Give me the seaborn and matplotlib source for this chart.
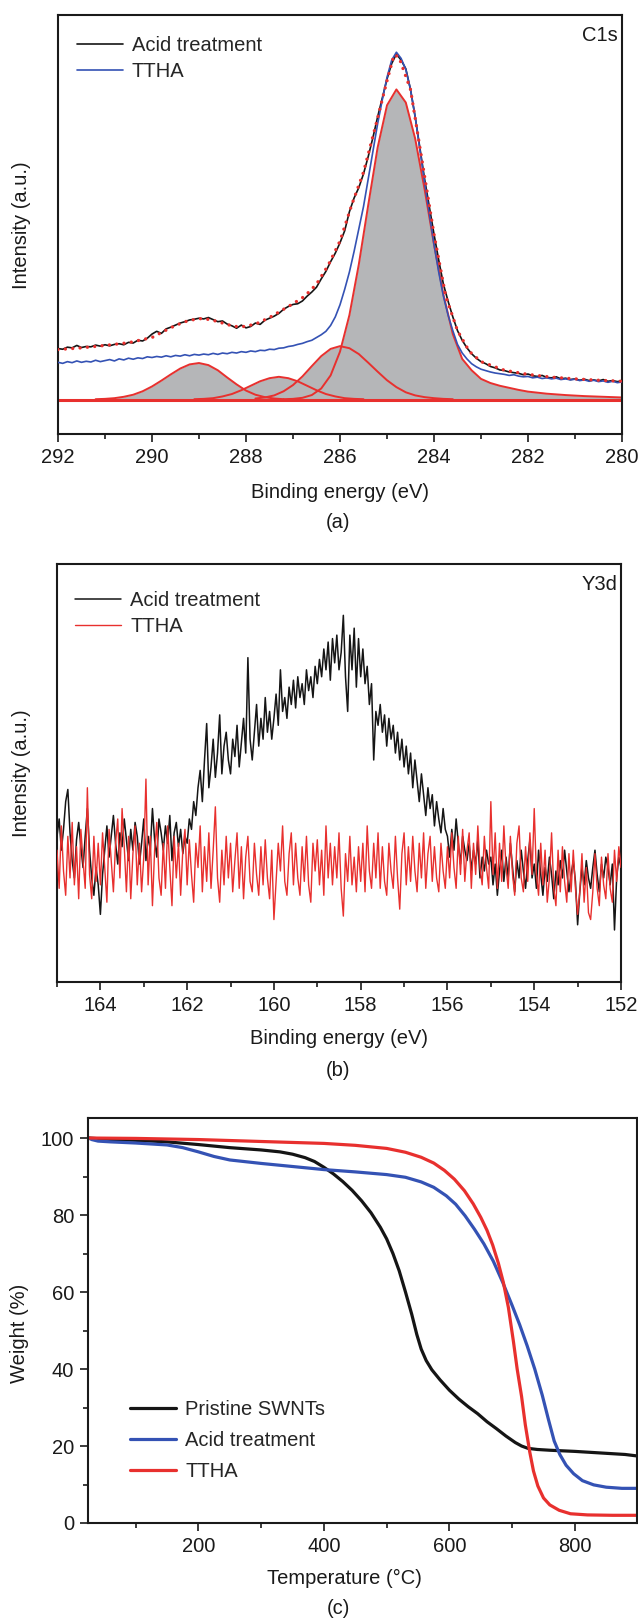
import numpy as np
import pandas as pd
import matplotlib
matplotlib.use("Agg")
import matplotlib.pyplot as plt
from matplotlib.ticker import MultipleLocator
import seaborn as sns

# ---------------- Panel (a) C1s data ----------------
c1s_energy = np.round(np.arange(292.0, 279.95, -0.1), 2)
c1s_acid = [148, 146, 152, 150, 157, 151, 154, 153, 158, 155,
            159, 156, 160, 162, 159, 166, 164, 172, 170, 178,
            190, 198, 192, 205, 210, 216, 222, 226, 231, 233,
            236, 234, 238, 232, 226, 228, 219, 214, 207, 216,
            208, 212, 222, 218, 230, 236, 242, 250, 262, 270,
            276, 278, 286, 300, 312, 326, 350, 372, 400, 425,
            455, 490, 545, 585, 615, 655, 705, 760, 820, 875,
            930, 975, 1003, 985, 960, 900, 820, 730, 640, 560,
            480, 405, 335, 285, 240, 200, 172, 150, 133, 120,
            110, 104, 96, 92, 86, 84, 80, 78, 76, 72,
            74, 69, 67, 70, 64, 63, 66, 60, 62, 58,
            60, 56, 59, 55, 57, 54, 58, 53, 55, 52, 54]
c1s_ttha = [108, 105, 110, 107, 112, 108, 111, 109, 114, 110,
            113, 116, 112, 118, 115, 120, 117, 121, 119, 124,
            122, 125, 123, 127, 124, 128, 126, 130, 127, 131,
            129, 132, 130, 134, 131, 135, 133, 137, 135, 139,
            137, 141, 139, 143, 142, 146, 145, 149, 150, 154,
            156, 160, 163, 168, 172, 180, 188, 198, 215, 240,
            275, 320, 370, 430, 495, 560, 640, 720, 800, 870,
            935, 985, 1008, 990, 958, 900, 820, 725, 630, 540,
            450, 370, 300, 245, 200, 160, 135, 118, 104, 95,
            88, 84, 80, 77, 75, 73, 70, 72, 68, 66,
            67, 63, 65, 61, 63, 60, 62, 58, 60, 57,
            59, 55, 57, 53, 56, 52, 54, 50, 53, 49, 51]

env_energy = [292, 291.5, 291, 290.5, 290, 289.75, 289.5, 289.25, 289, 288.75,
              288.5, 288.25, 288, 287.75, 287.5, 287.25, 287, 286.75, 286.5, 286.25,
              286, 285.75, 285.5, 285.25, 285, 284.85, 284.75, 284.5, 284.25, 284,
              283.75, 283.5, 283.25, 283, 282.5, 282, 281.5, 281, 280.5, 280]
env_fit = [145, 150, 157, 165, 180, 198, 215, 228, 235, 232,
           222, 212, 212, 222, 238, 258, 278, 300, 335, 390,
           460, 565, 660, 790, 925, 1000, 995, 900, 690, 480,
           300, 200, 140, 110, 85, 73, 65, 60, 56, 53]

comp1_energy = [291.2, 291.0, 290.8, 290.6, 290.4, 290.2, 290.0, 289.8, 289.6, 289.4, 289.2,
                289.0, 288.8, 288.6, 288.4, 288.2, 288.0, 287.8, 287.6, 287.4, 287.2]
comp1_int = [1, 2, 4, 8, 14, 24, 38, 55, 73, 90, 102,
             106, 100, 85, 64, 44, 26, 14, 7, 3, 1]
comp2_energy = [289.1, 288.9, 288.7, 288.5, 288.3, 288.1, 287.9, 287.7, 287.5, 287.3,
                287.1, 286.9, 286.7, 286.5, 286.3, 286.1, 285.9, 285.7, 285.5]
comp2_int = [1, 2, 4, 9, 16, 27, 40, 53, 62, 66,
             62, 53, 40, 27, 16, 9, 4, 2, 1]
comp3_energy = [287.8, 287.6, 287.4, 287.2, 287.0, 286.8, 286.6, 286.4, 286.2, 286.0,
                285.8, 285.6, 285.4, 285.2, 285.0, 284.8, 284.6, 284.4, 284.2, 284.0, 283.8, 283.6]
comp3_int = [3, 6, 12, 24, 42, 67, 97, 126, 147, 155,
             149, 132, 107, 81, 56, 36, 21, 12, 7, 4, 2, 1]
comp4_energy = [287.2, 287.0, 286.8, 286.6, 286.4, 286.2, 286.0, 285.8, 285.6, 285.4, 285.2,
                285.0, 284.8, 284.6, 284.4, 284.2, 284.0, 283.8, 283.6, 283.4, 283.2,
                283.0, 282.8, 282.6, 282.4, 282.2, 282.0, 281.6, 281.2, 280.8, 280.4, 280.0]
comp4_int = [1, 2, 5, 13, 32, 70, 139, 245, 392, 564, 731,
             854, 900, 862, 757, 610, 450, 305, 190, 118, 85,
             60, 48, 40, 34, 28, 23, 17, 13, 10, 8, 6]
base_energy = [292, 280]
base_int = [0, 0]

# ---------------- Panel (b) Y3d data ----------------
y3d_energy = np.round(np.arange(165.0, 151.99, -0.05), 2)
y3d_acid = [420, 470, 380, 440, 520, 555, 430, 350, 300, 410, 460, 390, 330, 420, 500, 380, 300, 250, 330, 280,
            195, 310, 380, 450, 360, 420, 480, 400, 340, 430, 390, 470, 410, 350, 440, 380, 460, 420, 340, 400,
            470, 350, 420, 380, 500, 410, 360, 470, 430, 380, 450, 400, 480, 350, 430, 460, 390, 440, 370, 420,
            400, 470, 440, 520, 480, 560, 610, 520, 640, 745, 560, 620, 700, 590, 660, 770, 600, 680, 720, 640,
            600, 700, 650, 740, 620, 690, 760, 660, 935, 700, 640, 720, 800, 680, 760, 700, 820, 720, 780, 700,
            760, 830, 740, 900, 780, 820, 760, 850, 800, 870, 790, 880, 820, 860, 800, 900, 840, 880, 820, 910,
            860, 930, 880, 960, 900, 980, 870, 990, 920, 1000, 900, 950, 1057, 880, 780, 1000, 900, 1020, 850, 990,
            880, 960, 860, 910, 800, 860, 640, 780, 740, 800, 720, 770, 680, 760, 700, 740, 660, 720, 640, 700,
            620, 680, 600, 660, 560, 640, 580, 520, 600, 540, 480, 560, 500, 540, 450, 520, 470, 430, 500, 440,
            420, 360, 440, 380, 470, 400, 340, 420, 380, 350, 400, 320, 380, 340, 410, 300, 360, 320, 380, 340,
            360, 280, 340, 250, 320, 380, 290, 360, 300, 400, 330, 260, 350, 300, 380, 320, 270, 350, 410, 300,
            340, 270, 380, 310, 250, 330, 290, 360, 310, 240, 320, 280, 350, 300, 380, 320, 260, 310, 350, 290,
            165, 260, 330, 280, 350, 300, 270, 330, 380, 310, 260, 340, 300, 360, 330, 280, 340, 150, 300, 360,
            330]
y3d_ttha = [380, 270, 450, 320, 250, 420, 300, 460, 280, 390, 240, 440, 350, 270, 560, 310, 240, 420, 290, 400,
            280, 430, 330, 230, 440, 350, 260, 400, 470, 300, 500, 390, 260, 420, 240, 370, 450, 280, 400, 260,
            360, 585, 280, 420, 220, 380, 460, 300, 250, 400, 270, 450, 330, 220, 420, 300, 400, 250, 380, 440,
            280, 410, 310, 230, 400, 330, 450, 260, 390, 290, 430, 270, 380, 505, 300, 230, 380, 280, 420, 300,
            400, 260, 350, 430, 270, 390, 240, 360, 420, 290, 260, 400, 310, 250, 390, 280, 410, 300, 240, 380,
            180, 290, 400, 320, 450, 290, 250, 370, 430, 280, 400, 300, 250, 390, 290, 420, 280, 230, 400, 320,
            410, 280, 380, 250, 450, 300, 400, 280, 390, 300, 430, 270, 190, 370, 290, 420, 280, 360, 260, 390,
            290, 400, 260, 450, 320, 270, 400, 300, 430, 270, 390, 290, 250, 400, 320, 270, 420, 300, 210, 370,
            430, 280, 390, 290, 420, 320, 260, 400, 300, 430, 270, 370, 420, 290, 390, 300, 260, 400, 320, 270,
            390, 300, 430, 330, 270, 420, 310, 440, 290, 380, 430, 270, 400, 310, 450, 330, 280, 420, 330, 270,
            520, 310, 430, 270, 400, 290, 450, 330, 270, 420, 310, 250, 400, 450, 300, 260, 390, 290, 430, 310,
            500, 310, 250, 400, 280, 380, 230, 300, 430, 270, 220, 380, 260, 390, 290, 230, 370, 260, 380, 270,
            195, 260, 370, 230, 330, 200, 180, 260, 370, 270, 220, 360, 280, 240, 370, 270, 230, 380, 290, 390,
            330]

# ---------------- Panel (c) TGA data ----------------
pristine_T = [25, 50, 100, 150, 200, 250, 300, 330, 350, 370, 385, 400, 415, 430, 445, 460, 475,
              490, 500, 510, 520, 530, 540, 548, 555, 563, 572, 585, 600, 615, 630, 645, 660,
              675, 690, 705, 715, 725, 740, 760, 800, 850, 880, 900]
pristine_W = [100, 99.7, 99.4, 99.0, 98.3, 97.5, 96.9, 96.4, 95.8, 94.9, 93.9, 92.4, 90.7, 88.7, 86.4, 83.7, 80.6,
              76.8, 73.8, 70.0, 65.5, 60.0, 54.2, 49.0, 45.2, 42.2, 39.8, 37.2, 34.5, 32.2, 30.2, 28.4, 26.3,
              24.5, 22.6, 20.9, 20.0, 19.4, 19.1, 18.9, 18.6, 18.1, 17.8, 17.4]
acid_T = [25, 30, 40, 60, 100, 150, 175, 200, 225, 250, 300, 350, 400, 450, 500, 530, 555, 575, 595,
          610, 625, 640, 655, 670, 685, 700, 712, 724, 736, 748, 758, 767, 776, 786, 798, 812, 830,
          850, 875, 900]
acid_W = [100, 99.6, 99.2, 99.0, 98.7, 98.2, 97.5, 96.4, 95.2, 94.3, 93.4, 92.6, 91.8, 91.2, 90.5, 89.8, 88.6, 87.2, 85.0,
          82.8, 79.8, 76.3, 72.5, 68.0, 62.5, 56.5, 51.5, 46.0, 40.0, 33.2, 26.8, 21.3, 17.8, 15.0, 12.8, 11.0, 9.9,
          9.3, 9.0, 9.0]
ttha_T = [25, 100, 200, 300, 400, 450, 500, 530, 555, 575, 592, 608, 624, 638, 650, 660, 669, 678,
          686, 694, 702, 708, 715, 721, 728, 734, 741, 750, 760, 775, 793, 820, 860, 900]
ttha_W = [100, 99.9, 99.6, 99.1, 98.6, 98.1, 97.3, 96.3, 95.0, 93.5, 91.6, 89.3, 86.3, 82.9, 79.4, 76.0, 72.2, 67.5,
          62.5, 56.0, 47.2, 40.0, 32.9, 25.5, 18.5, 13.5, 9.6, 6.5, 4.7, 3.3, 2.4, 2.1, 2.0, 2.0]

# ---------------- style ----------------
sns.set_style("ticks")
plt.rcParams['font.family'] = ['Liberation Sans', 'DejaVu Sans']
plt.rcParams.update({
    'axes.linewidth': 1.5,
    'axes.edgecolor': '#1a1a1a',
    'xtick.direction': 'out', 'ytick.direction': 'out',
    'xtick.major.size': 6, 'xtick.minor.size': 3.5,
    'ytick.major.size': 6, 'ytick.minor.size': 3.5,
    'xtick.major.width': 1.2, 'xtick.minor.width': 1.2,
    'ytick.major.width': 1.2, 'ytick.minor.width': 1.2,
    'xtick.color': '#1a1a1a', 'ytick.color': '#1a1a1a',
    'xtick.labelsize': 14.5, 'ytick.labelsize': 14.5,
})
FS = 14.5
BLACK = '#151515'
BLUE = '#3452b4'
RED = '#e8302e'
GRAY = '#b5b6b8'

W, H = 638, 1620
fig = plt.figure(figsize=(W / 100, H / 100), dpi=100)


def add_axes_px(left, top, right, bottom):
    return fig.add_axes([left / W, 1 - bottom / H, (right - left) / W, (bottom - top) / H])


def ftext(x, y, s, **kw):
    fig.text(x / W, 1 - y / H, s, fontsize=FS, ha='center', va='center', color='#1a1a1a', **kw)


# ---------------- Panel (a) ----------------
axa = add_axes_px(58, 15, 622, 434)
comps = [(comp1_energy, comp1_int), (comp2_energy, comp2_int),
         (comp3_energy, comp3_int), (comp4_energy, comp4_int)]
for e, i in comps:
    axa.fill_between(e, 0, i, color=GRAY, lw=0, zorder=1)
for e, i in comps:
    sns.lineplot(x=e, y=i, ax=axa, color=RED, lw=1.4, estimator=None, sort=False, zorder=2)
sns.lineplot(x=base_energy, y=base_int, ax=axa, color=RED, lw=2.2, estimator=None, sort=False, zorder=2)
sns.lineplot(x=c1s_energy, y=c1s_acid, ax=axa, color=BLACK, lw=1.2, estimator=None, sort=False,
             label='Acid treatment', zorder=3)
sns.lineplot(x=c1s_energy, y=c1s_ttha, ax=axa, color=BLUE, lw=1.2, estimator=None, sort=False,
             label='TTHA', zorder=4)
axa.plot(env_energy, env_fit, color=RED, lw=2.4, linestyle=(0, (0.01, 2.2)),
         dash_capstyle='round', zorder=5)
axa.set_xlim(292, 280)
axa.set_ylim(-100, 1116)
axa.set_xticks(np.arange(292, 279, -2))
axa.xaxis.set_minor_locator(MultipleLocator(1))
axa.set_yticks([])
axa.set_xlabel('')
axa.set_ylabel('')
axa.legend(loc='upper left', bbox_to_anchor=(0.033, 0.95), frameon=False, fontsize=FS,
           handlelength=2.3, handletextpad=0.45, labelspacing=0.35, borderpad=0, borderaxespad=0)
axa.text(0.992, 0.95, 'C1s', transform=axa.transAxes, ha='right', va='center', fontsize=FS, color='#1a1a1a')
ftext(340, 492, 'Binding energy (eV)')
ftext(338, 523, '(a)')
ftext(22, 225, 'Intensity (a.u.)', rotation=90)

# ---------------- Panel (b) ----------------
axb = add_axes_px(57, 564, 621, 982)
sns.lineplot(x=y3d_energy, y=y3d_acid, ax=axb, color=BLACK, lw=1.1, estimator=None, sort=False,
             label='Acid treatment', zorder=3)
sns.lineplot(x=y3d_energy, y=y3d_ttha, ax=axb, color=RED, lw=1.0, estimator=None, sort=False,
             label='TTHA', zorder=4)
axb.set_xlim(165, 152)
axb.set_ylim(0, 1205)
axb.set_xticks(np.arange(164, 151, -2))
axb.xaxis.set_minor_locator(MultipleLocator(1))
axb.set_yticks([])
axb.set_xlabel('')
axb.set_ylabel('')
axb.legend(loc='upper left', bbox_to_anchor=(0.032, 0.935), frameon=False, fontsize=FS,
           handlelength=2.3, handletextpad=0.45, labelspacing=0.35, borderpad=0, borderaxespad=0)
axb.text(0.993, 0.95, 'Y3d', transform=axb.transAxes, ha='right', va='center', fontsize=FS, color='#1a1a1a')
ftext(339, 1039, 'Binding energy (eV)')
ftext(338, 1071, '(b)')
ftext(22, 773, 'Intensity (a.u.)', rotation=90)

# ---------------- Panel (c) ----------------
axc = add_axes_px(88, 1118, 637, 1523)
sns.lineplot(x=pristine_T, y=pristine_W, ax=axc, color=BLACK, lw=2.3, estimator=None, sort=False,
             label='Pristine SWNTs')
sns.lineplot(x=acid_T, y=acid_W, ax=axc, color=BLUE, lw=2.3, estimator=None, sort=False,
             label='Acid treatment')
sns.lineplot(x=ttha_T, y=ttha_W, ax=axc, color=RED, lw=2.3, estimator=None, sort=False,
             label='TTHA')
axc.set_xlim(24, 899)
axc.set_ylim(0, 105.2)
axc.set_xticks([200, 400, 600, 800])
axc.xaxis.set_minor_locator(MultipleLocator(100))
axc.set_yticks([0, 20, 40, 60, 80, 100])
axc.yaxis.set_minor_locator(MultipleLocator(10))
axc.set_xlabel('')
axc.set_ylabel('')
axc.legend(loc='upper left', bbox_to_anchor=(0.0765, 0.304), frameon=False, fontsize=FS,
           handlelength=2.3, handletextpad=0.45, labelspacing=0.6, borderpad=0, borderaxespad=0)
ftext(344, 1578, 'Temperature (°C)')
ftext(338, 1609, '(c)')
ftext(20, 1333, 'Weight (%)', rotation=90)

for ax in (axa, axb, axc):
    for s in ax.spines.values():
        s.set_visible(True)
    ax.tick_params(which='both', top=False, right=False, pad=4)

fig.savefig('out.png', dpi=100)
